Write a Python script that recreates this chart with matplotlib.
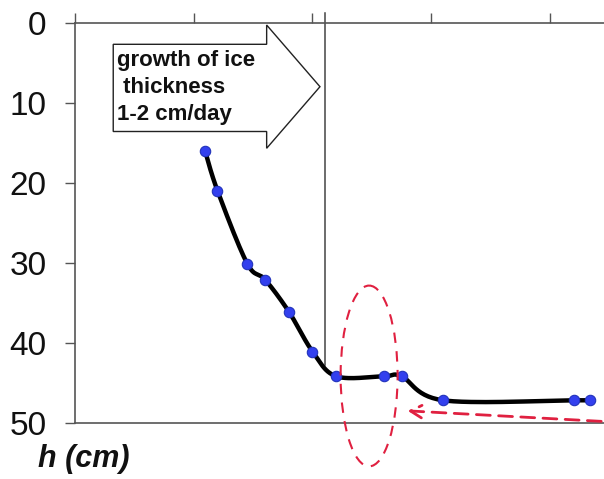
import numpy as np
import matplotlib
matplotlib.use("Agg")
import matplotlib.pyplot as plt
from matplotlib.patches import Polygon, Ellipse

# data
x_vals = [10.95, 12.0, 14.5, 16.0, 18.0, 20.0, 22.0, 26.0, 27.5, 31.0, 42.0, 43.4]
h_vals = [16.0, 21.0, 30.1, 32.1, 36.1, 41.1, 44.2, 44.2, 44.2, 47.2, 47.2, 47.2]
y_ticks = [0, 10, 20, 30, 40, 50]
x_ticks = [0, 10, 20, 30, 40]
label_text = "growth of ice\n thickness\n1-2 cm/day"
y_label = "h (cm)"


def catmull_rom(xs, ys, n=30):
    p = np.column_stack([xs, ys]).astype(float)
    p = np.vstack([p[0], p, p[-1]])
    out = []
    for i in range(1, len(p) - 2):
        p0, p1, p2, p3 = p[i - 1], p[i], p[i + 1], p[i + 2]
        t = np.linspace(0, 1, n)[:, None]
        c = 0.5 * ((2 * p1) + (-p0 + p2) * t + (2 * p0 - 5 * p1 + 4 * p2 - p3) * t ** 2
                   + (-p0 + 3 * p1 - 3 * p2 + p3) * t ** 3)
        out.append(c)
    c = np.vstack(out)
    return c[:, 0], c[:, 1]


plt.rcParams['font.family'] = ['Liberation Sans', 'DejaVu Sans']

fig = plt.figure(figsize=(6.04, 4.79), dpi=100)
fig.patch.set_facecolor('white')
ax = fig.add_axes([75 / 604, 1 - 422.7 / 479, (604 - 75) / 604, 400 / 479])
ax.set_xlim(0, 44.55)
ax.set_ylim(50, 0)

ax.spines['right'].set_visible(False)
for s in ['left', 'top', 'bottom']:
    ax.spines[s].set_color('#555555')
    ax.spines[s].set_linewidth(1.2)

ax.xaxis.tick_top()
ax.set_xticks(x_ticks)
ax.set_xticklabels([])
ax.tick_params(axis='x', direction='out', length=7, width=1, colors='#555555')
ax.set_yticks(y_ticks)
ax.set_yticklabels([str(v) for v in y_ticks])
ax.tick_params(axis='y', direction='out', length=7, width=1, color='#555555',
               labelsize=24, pad=13.5, labelcolor='#111111')

# vertical grey line
ax.plot([21.05, 21.05], [-1.2, 42.8], color='#444444', lw=1.1, clip_on=False, zorder=2)

# arrow shape with text
arrow_pts = [(3.22, 2.7), (16.14, 2.7), (16.14, 0.29), (20.63, 8.0),
             (16.14, 15.7), (16.14, 13.6), (3.22, 13.6)]
ax.add_patch(Polygon(arrow_pts, closed=True, facecolor='white', edgecolor='#222222',
                     lw=1.0, zorder=3, clip_on=False))
ax.text(3.5, 3.4, label_text, fontsize=16, fontweight='bold', va='top', ha='left',
        linespacing=1.37, color='#111111', zorder=4)

# smoothed line + markers
sx, sy = catmull_rom(x_vals, h_vals)
ax.plot(sx, sy, color='black', lw=3.2, zorder=5, solid_capstyle='round', clip_on=False)
ax.plot(x_vals, h_vals, 'o', ms=7.5, mfc='#3340ee', mec='#2233bb', mew=0.8, zorder=6,
        clip_on=False)

# red dashed ellipse
ax.add_patch(Ellipse((24.77, 44.16), 4.8, 22.6, fill=False, edgecolor='#e02040',
                     lw=1.5, ls=(0, (5, 4)), zorder=7, clip_on=False))

# red dashed arrow
ax.annotate('', xy=(27.79, 48.5), xytext=(44.55, 49.85),
            arrowprops=dict(arrowstyle='->,head_length=0.8,head_width=0.45',
                            color='#e02040', lw=2.0, ls=(0, (5, 3))),
            annotation_clip=False, zorder=7)

fig.text(38 / 604, 1 - 467 / 479, y_label, fontsize=22, fontweight='bold',
         fontstyle='italic', ha='left', va='baseline', color='#111111')

fig.savefig('out.png', dpi=100, facecolor='white')
